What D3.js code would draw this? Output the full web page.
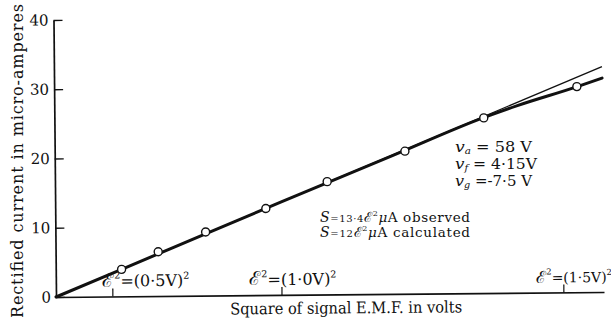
<!DOCTYPE html>
<html>
<head>
<meta charset="utf-8">
<script src="https://cdn.jsdelivr.net/npm/d3@7"></script>
<style>
  body { margin: 0; background: #fff; }
  svg { display: block; }
  text { font-family: "DejaVu Serif", "Liberation Serif", serif; fill: #111; }
</style>
</head>
<body>
<svg id="chart" width="611" height="323"></svg>
<script>
// Rectified current against the square of the signal e.m.f.
const yTicks = [0, 10, 20, 30, 40];
const xTickValues = [0.25, 1.0, 2.25];          // ℰ² in volts²
const xTickNames = ["0·5V", "1·0V", "1·5V"];

// observed readings (ℰ², µA)
const obsX = [0.292, 0.455, 0.666, 0.934, 1.207, 1.553, 1.904, 2.318];
const obsY = [3.9, 6.4, 9.2, 12.5, 16.3, 20.6, 25.3, 29.7];

// smooth experimental curve
const curveX = [0, 0.5, 1.0, 1.5, 1.9, 2.05, 2.32, 2.43];
const curveY = [0, 6.7, 13.4, 20.0, 25.3, 27.0, 29.7, 30.9];

// straight law S = 13.4 ℰ² µA
const slopeObserved = 13.4;
const lawX = [0, 2.43];

const svg = d3.select("#chart");
const W = 548, H = 277;

// the plate is tilted a little; draw the frame in its own tilted group
const g = svg.append("g").attr("transform", "translate(56,297) rotate(-0.52)");

const x = d3.scaleLinear().domain([0, 2.43]).range([0, W]);
const y = d3.scaleLinear().domain([0, 40]).range([0, -H]);

// y axis, ticks pointing inward
const yAxis = d3.axisLeft(y).tickValues(yTicks).tickSizeInner(-9).tickSizeOuter(0).tickPadding(5);
const ya = g.append("g").call(yAxis);
ya.select(".domain").attr("stroke", "#111").attr("stroke-width", 1.7);
ya.selectAll(".tick line").attr("stroke", "#111").attr("stroke-width", 1.3);
ya.selectAll(".tick text").attr("font-size", 15).attr("fill", "#111")
  .style("font-family", "'DejaVu Serif', serif");

// x axis, short ticks pointing up
const xAxis = d3.axisBottom(x).tickValues(xTickValues).tickSizeInner(-8).tickSizeOuter(0).tickFormat("");
const xa = g.append("g").call(xAxis);
xa.select(".domain").attr("stroke", "#111").attr("stroke-width", 1.7);
xa.selectAll(".tick line").attr("stroke", "#111").attr("stroke-width", 1.2);

// tick captions ℰ² = (v)²
const labelShift = [-10, -32, -27];
const labelSize = [16, 16, 14];
xTickValues.forEach((v, i) => {
  const s = labelSize[i];
  const t = g.append("text")
    .attr("x", x(v) + labelShift[i])
    .attr("y", -10)
    .attr("font-size", s);
  t.append("tspan").attr("font-size", s * 1.2).text("ℰ");
  t.append("tspan").attr("font-size", s * 0.6).attr("dy", -8).text("2");
  t.append("tspan").attr("dy", 8).text("=(" + xTickNames[i] + ")");
  t.append("tspan").attr("font-size", s * 0.6).attr("dy", -7).text("2");
});

// straight law line (thin)
g.append("path")
  .datum(lawX.map(v => [v, slopeObserved * v]))
  .attr("fill", "none").attr("stroke", "#111").attr("stroke-width", 1.3)
  .attr("d", d3.line().x(d => x(d[0])).y(d => y(d[1])));

// experimental curve (heavy)
g.append("path")
  .datum(curveX.map((v, i) => [v, curveY[i]]))
  .attr("fill", "none").attr("stroke", "#111").attr("stroke-width", 3)
  .attr("stroke-linecap", "round")
  .attr("d", d3.line().x(d => x(d[0])).y(d => y(d[1])).curve(d3.curveMonotoneX));

// observed points
g.selectAll("circle.obs")
  .data(obsX.map((v, i) => [v, obsY[i]]))
  .join("circle").attr("class", "obs")
  .attr("cx", d => x(d[0])).attr("cy", d => y(d[1])).attr("r", 4)
  .attr("fill", "#fff").attr("stroke", "#111").attr("stroke-width", 1.4);

// axis titles
g.append("text")
  .attr("x", 174).attr("y", 19)
  .attr("font-size", 16)
  .attr("textLength", 232).attr("lengthAdjust", "spacingAndGlyphs")
  .text("Square of signal E.M.F. in volts");

svg.append("text")
  .attr("transform", "translate(23,318) rotate(-90)")
  .attr("font-size", 16)
  .attr("textLength", 314).attr("lengthAdjust", "spacing")
  .text("Rectified current in micro-amperes");

// operating conditions
const conds = [["a", " = 58 V", 77], ["f", " = 4·15V", 82], ["g", " =-7·5 V", 77]];
conds.forEach((c, i) => {
  const t = svg.append("text").attr("x", 455).attr("y", 152 + i * 17).attr("font-size", 14)
    .attr("textLength", c[2]).attr("lengthAdjust", "spacingAndGlyphs");
  t.append("tspan").attr("font-style", "italic").attr("font-size", 15).text("v");
  t.append("tspan").attr("font-style", "italic").attr("font-size", 9).attr("dy", 2).text(c[0]);
  t.append("tspan").attr("dy", -2).text(c[1]);
});

// sensitivity formulas
const formulas = [["=13·4", " observed"], ["=12", " calculated"]];
formulas.forEach((f, i) => {
  const t = svg.append("text").attr("x", 320).attr("y", 222 + i * 15).attr("font-size", 13.5)
    .attr("textLength", 150).attr("lengthAdjust", "spacing");
  t.append("tspan").attr("font-style", "italic").attr("font-size", 14).text("S");
  t.append("tspan").attr("font-size", 10).text(f[0]);
  t.append("tspan").attr("font-size", 14).text("ℰ");
  t.append("tspan").attr("font-size", 8).attr("dy", -6).text("2");
  t.append("tspan").attr("font-style", "italic").attr("dy", 6).text("μ");
  t.append("tspan").text("A");
  t.append("tspan").text(f[1]);
});
</script>
</body>
</html>
